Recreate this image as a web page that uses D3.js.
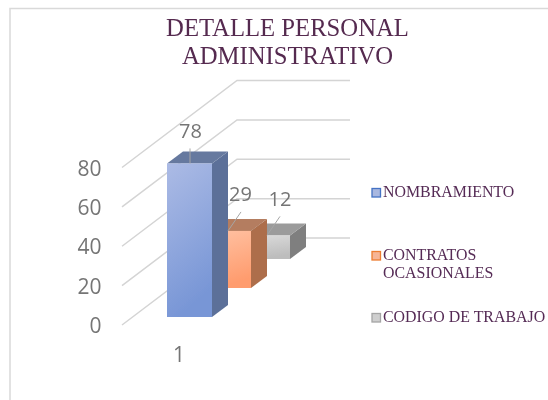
<!DOCTYPE html>
<html><head><meta charset="utf-8">
<script src="https://cdn.jsdelivr.net/npm/d3@7"></script>
<style>html,body{margin:0;padding:0;background:#fff}svg{display:block}</style>
</head><body><div id="c"></div>
<script>
const categories = ["1"];
const seriesNames = ["NOMBRAMIENTO","CONTRATOS OCASIONALES","CODIGO DE TRABAJO"];
const seriesValues = [78,29,12];
const yTicks = [0,20,40,60,80];
const titleLines = ["DETALLE PERSONAL","ADMINISTRATIVO"];
const legendLines = [["NOMBRAMIENTO"],["CONTRATOS","OCASIONALES"],["CODIGO DE TRABAJO"]];

const W=548,H=400;
const svg0=d3.select("#c").append("svg").attr("width",W).attr("height",H);
const defs=svg0.append("defs");
defs.append("filter").attr("id","soft").attr("x",0).attr("y",0).attr("width",1).attr("height",1)
  .attr("filterUnits","userSpaceOnUse").attr("width",W).attr("height",H)
  .append("feGaussianBlur").attr("stdDeviation",0.35);
const svg=svg0.append("g").attr("filter","url(#soft)");
const serif="'Liberation Serif',serif", sans="'Open Sans',sans-serif";
const textCol="#552b55", axisCol="#757575", gridCol="#d4d4d4";

// frame
svg.append("path").attr("d",`M10,${H} V8.5 H${W}`).attr("fill","none").attr("stroke","#d9d9d9").attr("stroke-width",1.5);

// title
svg.append("g").selectAll("text").data(titleLines).join("text")
 .attr("x",287.5).attr("y",(d,i)=>36+i*28).attr("text-anchor","middle")
 .attr("font-family",serif).attr("font-size",24.7).attr("fill","#552a50").text(d=>d);

// scales
const h=d3.scaleLinear().domain([0,80]).range([0,157.5]);
const y0=325, x0=122, wallDx=115, wallDy=-87, gridEnd=350;

// gridlines
const grid=svg.append("g").attr("fill","none").attr("stroke",gridCol).attr("stroke-width",1.5);
yTicks.forEach(t=>{
  const y=y0-h(t);
  grid.append("path").attr("d",`M${x0},${y} L${x0+wallDx},${y+wallDy} H${gridEnd}`);
});

// tick labels
svg.append("g").selectAll("text").data(yTicks).join("text")
 .attr("x",101.5).attr("y",d=>y0-h(d)+8).attr("text-anchor","end")
 .attr("font-family",sans).attr("font-size",21).attr("fill",axisCol).text(d=>d);

// category
svg.append("text").attr("x",179).attr("y",362).attr("text-anchor","middle")
 .attr("font-family",sans).attr("font-size",21).attr("fill",axisCol).text(categories[0]);

// gradients
const styles=[
 {f:["#acbbe5","#7896d6"],side:"#5c7099",top:"#66799f",sw:"#a9b8e0",swb:"#4472c4"},
 {f:["#ffc3a5","#ff9c6e"],side:"#ad6e4b",top:"#b47d60",sw:"#f6b596",swb:"#ed7d31"},
 {f:["#dcdcdc","#bdbdbd"],side:"#7f7f7f",top:"#9b9b9b",sw:"#cfcfcf",swb:"#a5a5a5"}
];
styles.forEach((s,i)=>{
  const g=defs.append("linearGradient").attr("id","g"+i).attr("x1",0).attr("y1",0).attr("x2",0.25).attr("y2",1);
  g.append("stop").attr("offset",0).attr("stop-color",s.f[0]);
  g.append("stop").attr("offset",1).attr("stop-color",s.f[1]);
});

// bars, back to front
const barX=d3.scaleLinear().domain([0,1]).range([167,206]);
const barBase=d3.scaleLinear().domain([0,1]).range([317,288]);
const bw=45, dx=16, dy=-12;
const bars=svg.append("g");
[2,1,0].forEach(i=>{
  const x=barX(i), b=barBase(i), t=b-h(seriesValues[i]), s=styles[i];
  bars.append("path").attr("fill",s.side).attr("d",`M${x+bw},${b} V${t} l${dx},${dy} V${b+dy} Z`);
  bars.append("path").attr("fill",s.top).attr("d",`M${x},${t} H${x+bw} l${dx},${dy} H${x+dx} Z`);
  bars.append("rect").attr("x",x).attr("y",t).attr("width",bw).attr("height",b-t).attr("fill",`url(#g${i})`);
});

// leader lines and value labels
const leaderDx=[0,13,13], leaderDy=[-15,-19,-19], leaderX=[190,228,267], labelX=[190.5,240.5,280], labelDy=[-25,-30,-29.5];
seriesValues.forEach((v,i)=>{
  const ty=barBase(i)-h(v);
  svg.append("line").attr("x1",leaderX[i]).attr("y1",ty).attr("x2",leaderX[i]+leaderDx[i]).attr("y2",ty+leaderDy[i])
   .attr("stroke","#a6a6a6").attr("stroke-width",1);
  svg.append("text").attr("x",labelX[i]).attr("y",ty+labelDy[i]).attr("text-anchor","middle")
   .attr("font-family",sans).attr("font-size",20).attr("fill",axisCol).text(v);
});

// legend
const legendY=[197,260,322];
seriesNames.forEach((n,i)=>{
  svg.append("rect").attr("x",372).attr("y",legendY[i]-8.5).attr("width",8.5).attr("height",8.5)
   .attr("fill",styles[i].sw).attr("stroke",styles[i].swb).attr("stroke-width",1.3);
  legendLines[i].forEach((l,j)=>{
    svg.append("text").attr("x",383).attr("y",legendY[i]+j*17.5).attr("font-family",serif)
     .attr("font-size",15.9).attr("fill",textCol).text(l);
  });
});
</script></body></html>
